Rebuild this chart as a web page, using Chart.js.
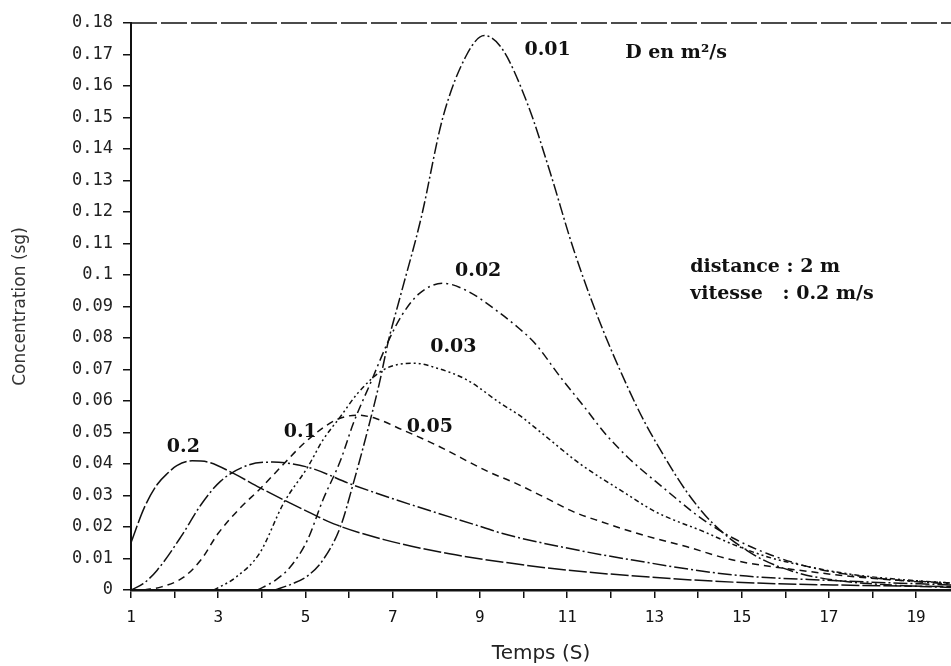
<!DOCTYPE html>
<html>
<head>
<meta charset="utf-8">
<title>Concentration</title>
<script src="https://cdn.jsdelivr.net/npm/chart.js@4"></script>
<style>
  body { margin: 0; background: #fff; }
  #wrap { width: 951px; height: 666px; position: relative; }
</style>
</head>
<body>
<div id="wrap"><canvas id="chart"></canvas></div>
<script>
// values (t in s, concentration)
const dLabels = ['0.01', '0.02', '0.03', '0.05', '0.1', '0.2'];

const t001 = [4.3, 4.7, 5.05, 5.4, 5.8, 6.1, 6.45, 6.7, 6.9, 7.15, 7.65, 8.15, 8.7, 9.1, 9.5, 10.1, 10.6, 11.15, 11.75, 12.4, 12.75, 13.2, 13.75, 14.35, 15.3, 16.2, 17.1, 18.5, 19.8];
const c001 = [0, 0.002, 0.0045, 0.0095, 0.020, 0.034, 0.052, 0.066, 0.079, 0.092, 0.118, 0.150, 0.170, 0.176, 0.172, 0.154, 0.133, 0.108, 0.085, 0.064, 0.054, 0.043, 0.031, 0.021, 0.011, 0.0058, 0.0032, 0.0015, 0.0008];

const t002 = [3.9, 4.3, 4.65, 5.05, 5.4, 5.8, 6.1, 6.5, 6.9, 7.2, 7.6, 8.15, 8.7, 9.45, 9.9, 10.25, 10.85, 11.4, 11.85, 12.4, 13.2, 14.05, 14.8, 15.6, 16.5, 17.5, 18.5, 19.8];
const c002 = [0, 0.003, 0.0073, 0.016, 0.0286, 0.041, 0.053, 0.066, 0.079, 0.087, 0.094, 0.0974, 0.095, 0.088, 0.083, 0.0785, 0.0675, 0.058, 0.050, 0.042, 0.0325, 0.023, 0.0165, 0.0115, 0.0075, 0.0048, 0.0032, 0.0019];

const t003 = [2.9, 3.4, 3.95, 4.5, 5.05, 5.4, 5.8, 6.2, 6.8, 7.5, 8.0, 8.7, 9.5, 9.9, 10.4, 11.3, 12.3, 13.0, 13.45, 14.05, 14.8, 15.6, 16.5, 17.5, 18.5, 19.8];
const c003 = [0, 0.004, 0.0117, 0.0276, 0.039, 0.0476, 0.055, 0.0625, 0.070, 0.072, 0.0705, 0.0667, 0.059, 0.0555, 0.050, 0.040, 0.031, 0.025, 0.0222, 0.019, 0.0145, 0.0105, 0.0075, 0.005, 0.0035, 0.0022];

const t005 = [1.3, 1.7, 2.2, 2.6, 3.0, 3.5, 3.95, 4.5, 5.0, 5.7, 6.2, 6.6, 7.2, 8.0, 9.2, 9.8, 10.6, 11.15, 11.8, 12.6, 13.75, 14.8, 16.3, 17.9, 19.8];
const c005 = [0, 0.001, 0.004, 0.0095, 0.018, 0.026, 0.032, 0.040, 0.047, 0.054, 0.0555, 0.0545, 0.051, 0.046, 0.0375, 0.034, 0.0286, 0.0248, 0.0216, 0.018, 0.0137, 0.0095, 0.0063, 0.0038, 0.0022];

const t01 = [1.0, 1.28, 1.6, 2.15, 2.6, 3.05, 3.7, 4.25, 5.05, 6.1, 7.55, 9.05, 9.5, 11.0, 12.5, 14.8, 17.1, 19.8];
const c01 = [0, 0.002, 0.0063, 0.017, 0.027, 0.0345, 0.0397, 0.0406, 0.039, 0.0333, 0.0265, 0.020, 0.018, 0.0133, 0.0095, 0.0048, 0.003, 0.0016];

const t02 = [1.0, 1.3, 1.6, 1.85, 2.05, 2.4, 2.8, 3.35, 3.95, 4.5, 5.05, 5.65, 6.8, 8.3, 9.5, 11.0, 12.9, 14.8, 17.1, 19.8];
const c02 = [0.015, 0.026, 0.0335, 0.0372, 0.0395, 0.041, 0.0405, 0.037, 0.0325, 0.0286, 0.0249, 0.021, 0.016, 0.0115, 0.0089, 0.0063, 0.0041, 0.0025, 0.0016, 0.0011];

const seriesT = [t001, t002, t003, t005, t01, t02];
const seriesC = [c001, c002, c003, c005, c01, c02];
const dashes = [[12, 3, 2, 3], [9, 4, 2, 4], [5, 3, 2, 3, 2, 3], [7, 5], [14, 3, 2, 3], [18, 3]];

const datasets = dLabels.map((lbl, k) => ({
  label: lbl,
  data: seriesT[k].map((t, i) => ({ x: t, y: seriesC[k][i] })),
  borderColor: '#111',
  borderWidth: 1.5,
  borderDash: dashes[k],
  pointRadius: 0,
  cubicInterpolationMode: 'monotone',
  fill: false
}));

// text notes on the plot, placed in data units
const notes = [
  { text: '0.01', x: 10.55, y: 0.1714 },
  { text: 'D en m²/s', x: 12.33, y: 0.1705, align: 'left' },
  { text: '0.02', x: 8.96, y: 0.1013 },
  { text: '0.03', x: 8.39, y: 0.077 },
  { text: '0.05', x: 7.85, y: 0.0517 },
  { text: '0.1', x: 4.88, y: 0.050 },
  { text: '0.2', x: 2.2, y: 0.0455 },
  { text: 'distance : 2 m', x: 13.82, y: 0.1025, align: 'left' },
  { text: 'vitesse   : 0.2 m/s', x: 13.82, y: 0.094, align: 'left' }
];

const decor = {
  id: 'decor',
  afterDatasetsDraw(chart) {
    const { ctx, chartArea, scales } = chart;
    ctx.save();
    // dashed frame line along the top
    ctx.strokeStyle = '#111';
    ctx.lineWidth = 1.5;
    ctx.setLineDash([26, 4]);
    ctx.beginPath();
    ctx.moveTo(chartArea.left, chartArea.top);
    ctx.lineTo(chartArea.right, chartArea.top);
    ctx.stroke();
    ctx.setLineDash([]);
    ctx.fillStyle = '#111';
    ctx.font = 'bold 19px "DejaVu Serif"';
    ctx.textBaseline = 'middle';
    notes.forEach(n => {
      ctx.textAlign = n.align || 'center';
      ctx.fillText(n.text, scales.x.getPixelForValue(n.x), scales.y.getPixelForValue(n.y));
    });
    ctx.restore();
  }
};

new Chart(document.getElementById('chart'), {
  type: 'line',
  data: { datasets: datasets },
  plugins: [decor],
  options: {
    responsive: true,
    maintainAspectRatio: false,
    animation: false,
    layout: { padding: { top: 23, right: 0, left: 0, bottom: 0 } },
    plugins: { legend: { display: false }, tooltip: { enabled: false } },
    scales: {
      x: {
        type: 'linear',
        min: 1,
        max: 19.8,
        afterFit: s => { s.height = 76; },
        border: { color: '#111', width: 2.5 },
        grid: { drawOnChartArea: false, drawTicks: true, tickLength: 8, color: '#111', lineWidth: 1.5 },
        ticks: {
          stepSize: 1,
          autoSkip: false,
          includeBounds: false,
          maxRotation: 0,
          padding: 10,
          color: '#111',
          font: { family: '"DejaVu Sans Mono"', size: 16 },
          callback: v => (v % 2 === 1 ? String(v) : '')
        },
        title: {
          display: true,
          text: 'Temps (S)',
          color: '#222',
          font: { family: '"DejaVu Sans"', size: 20 },
          padding: { top: 0, bottom: 0 }
        }
      },
      y: {
        min: 0,
        max: 0.18,
        afterFit: s => { s.width = 131; },
        border: { color: '#111', width: 2 },
        grid: { drawOnChartArea: false, drawTicks: true, tickLength: 8, color: '#111', lineWidth: 1.5 },
        ticks: {
          stepSize: 0.01,
          autoSkip: false,
          padding: 10,
          color: '#222',
          font: { family: '"DejaVu Sans Mono"', size: 17 },
          callback: v => String(Number(v.toFixed(2)))
        },
        title: {
          display: true,
          text: 'Concentration (sg)',
          color: '#333',
          font: { family: '"DejaVu Sans"', size: 17 },
          padding: { top: 10, bottom: 0 }
        }
      }
    }
  }
});
</script>
</body>
</html>
